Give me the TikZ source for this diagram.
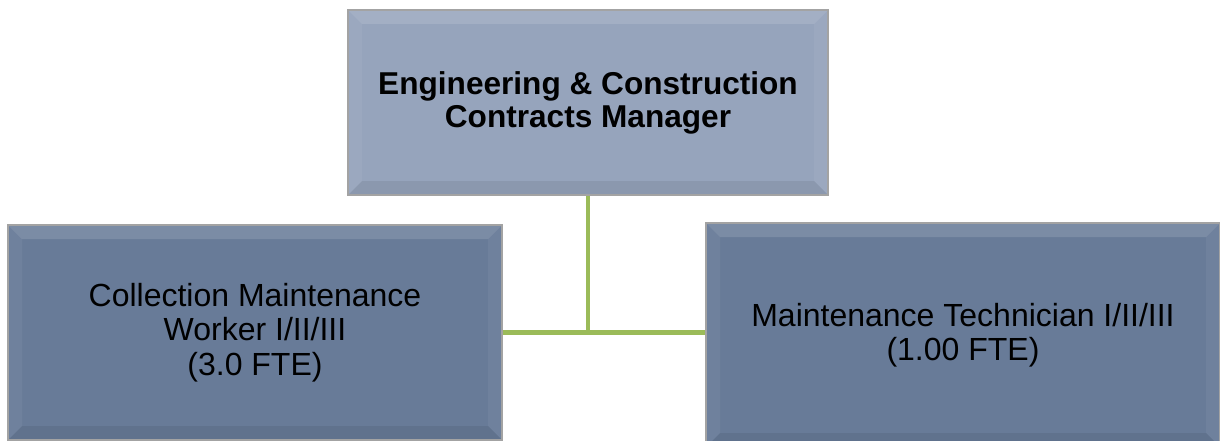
\documentclass[tikz,border=0pt]{standalone}
\usepackage{fontspec}
\setmainfont{Liberation Sans}
\usetikzlibrary{calc}

\definecolor{topfill}{HTML}{96A4BC}
\definecolor{subfill}{HTML}{687B98}
\definecolor{rim}{HTML}{A3A3A3}
\definecolor{link}{HTML}{9BBB59}

\tikzset{
  % bevelled rectangle: light top/left rims, darker bottom rim
  bevelbox/.style={
    draw=rim, line width=1.8pt, rectangle, inner sep=0pt, align=center,
    path picture={
      \fill[white,opacity=0.13]
        (path picture bounding box.north west) -- (path picture bounding box.north east)
        -- ([shift={(-14pt,-14pt)}]path picture bounding box.north east)
        -- ([shift={(14pt,-14pt)}]path picture bounding box.north west) -- cycle;
      \fill[white,opacity=0.05]
        (path picture bounding box.north west) -- ([shift={(14pt,-14pt)}]path picture bounding box.north west)
        -- ([shift={(14pt,14pt)}]path picture bounding box.south west)
        -- (path picture bounding box.south west) -- cycle;
      \fill[white,opacity=0.05]
        (path picture bounding box.north east) -- ([shift={(-14pt,-14pt)}]path picture bounding box.north east)
        -- ([shift={(-14pt,14pt)}]path picture bounding box.south east)
        -- (path picture bounding box.south east) -- cycle;
      \fill[black,opacity=0.07]
        (path picture bounding box.south west) -- (path picture bounding box.south east)
        -- ([shift={(-14pt,14pt)}]path picture bounding box.south east)
        -- ([shift={(14pt,14pt)}]path picture bounding box.south west) -- cycle;
    }},
  headbox/.style={bevelbox, fill=topfill, font=\fontsize{31.6}{33}\selectfont\bfseries},
  staffbox/.style={bevelbox, fill=subfill, font=\fontsize{32}{34.5}\selectfont},
  link/.style={draw=link, line width=4.8pt}
}

\begin{document}
\begin{tikzpicture}[x=1pt,y=-1pt]
  \useasboundingbox (0,0) rectangle (1220,441);
  \clip (0,0) rectangle (1220,441);
  \fill[white] (0,0) rectangle (1220,441);

  % boxes
  \node[headbox, minimum width=480pt, minimum height=185pt] (mgr) at (588,102.5)
    {Engineering \& Construction\\Contracts Manager};
  \node[staffbox, minimum width=494pt, minimum height=215pt] (cmw) at (255,332.5)
    {Collection Maintenance\\Worker I/II/III\\(3.0 FTE)};
  \node[staffbox, minimum width=514pt, minimum height=224pt] (tech) at (963,335)
    {Maintenance Technician I/II/III\\(1.00 FTE)};

  % reporting lines
  \coordinate (j) at (mgr.south |- cmw.east);
  \draw[link] (mgr.south) -- (j);
  \draw[link] (cmw.east) -- (j) -- (j -| tech.west);
\end{tikzpicture}
\end{document}
